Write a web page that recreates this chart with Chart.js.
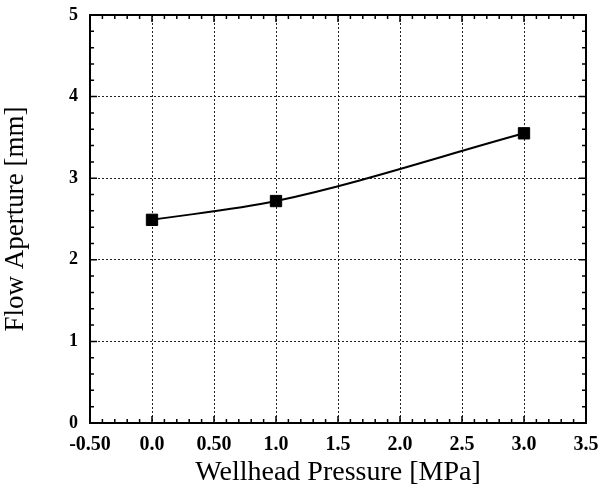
<!DOCTYPE html>
<html>
<head>
<meta charset="utf-8">
<script src="https://cdn.jsdelivr.net/npm/chart.js@4.4.1/dist/chart.umd.min.js"></script>
<style>
  html, body { margin: 0; padding: 0; background: #fff; }
  #wrap { width: 608px; height: 496px; }
</style>
</head>
<body>
<div id="wrap"><canvas id="apertureChart" width="608" height="496"></canvas></div>
<script>
// values
const pressure = [0.0, 1.0, 3.0];
const aperture = [2.49, 2.72, 3.55];
const xTickLabels = ['-0.50', '0.0', '0.50', '1.0', '1.5', '2.0', '2.5', '3.0', '3.5'];
const yTickLabels = ['0', '1', '2', '3', '4', '5'];

// frame plus inward major/minor ticks on all four sides
const frameTicks = {
    id: 'frameTicks',
    afterDraw(chart) {
        const ctx = chart.ctx;
        const xs = chart.scales.x, ys = chart.scales.y;
        const a = chart.chartArea;
        ctx.save();
        ctx.strokeStyle = '#000';
        ctx.lineWidth = 1.5;
        for (let i = 0; i <= 40; i++) {
            const v = -0.5 + i * 0.1;
            const px = xs.getPixelForValue(v);
            const len = i % 5 === 0 ? 7 : 4;
            ctx.beginPath();
            ctx.moveTo(px, a.bottom); ctx.lineTo(px, a.bottom - len);
            ctx.moveTo(px, a.top); ctx.lineTo(px, a.top + len);
            ctx.stroke();
        }
        for (let i = 0; i <= 25; i++) {
            const v = i * 0.2;
            const py = ys.getPixelForValue(v);
            const len = i % 5 === 0 ? 7 : 4;
            ctx.beginPath();
            ctx.moveTo(a.left, py); ctx.lineTo(a.left + len, py);
            ctx.moveTo(a.right, py); ctx.lineTo(a.right - len, py);
            ctx.stroke();
        }
        ctx.lineWidth = 2;
        ctx.strokeRect(a.left, a.top, a.right - a.left, a.bottom - a.top);
        ctx.restore();
    }
};

function initChart() {
    const ctx = document.getElementById('apertureChart');
    new Chart(ctx, {
        type: 'scatter',
        data: {
            datasets: [{
                label: 'Flow Aperture',
                data: pressure.map((p, i) => ({ x: p, y: aperture[i] })),
                showLine: true,
                cubicInterpolationMode: 'monotone',
                borderColor: '#000',
                borderWidth: 2,
                backgroundColor: '#000',
                pointStyle: 'rect',
                pointRadius: 8,
                pointBorderWidth: 1,
                pointBorderColor: '#000',
                pointBackgroundColor: '#000'
            }]
        },
        options: {
            responsive: false,
            animation: false,
            layout: { padding: { left: 0, right: 22, top: 15, bottom: 0 } },
            plugins: {
                legend: { display: false },
                tooltip: { enabled: false }
            },
            scales: {
                x: {
                    type: 'linear',
                    min: -0.5,
                    max: 3.5,
                    afterBuildTicks: (scale) => {
                        scale.ticks = xTickLabels.map((_, i) => ({ value: -0.5 + i * 0.5 }));
                    },
                    afterFit: (scale) => {
                        scale.height = 73;
                        scale.paddingLeft = 0;
                        scale.paddingRight = 0;
                    },
                    grid: { color: '#222', lineWidth: 1, drawTicks: false },
                    border: { display: false, dash: [2, 2] },
                    ticks: {
                        padding: 10,
                        color: '#000',
                        maxRotation: 0,
                        autoSkip: false,
                        font: { family: 'Liberation Serif', size: 20, weight: 'bold' },
                        callback: (v, i) => xTickLabels[i]
                    },
                    title: {
                        display: true,
                        text: 'Wellhead Pressure [MPa]',
                        color: '#000',
                        padding: { top: 2, bottom: 7 },
                        font: { family: 'Liberation Serif', size: 28 }
                    }
                },
                y: {
                    type: 'linear',
                    min: 0,
                    max: 5,
                    afterBuildTicks: (scale) => {
                        scale.ticks = yTickLabels.map((_, i) => ({ value: i }));
                    },
                    afterFit: (scale) => {
                        scale.width = 90;
                        scale.paddingTop = 0;
                        scale.paddingBottom = 0;
                    },
                    grid: { color: '#222', lineWidth: 1, drawTicks: false },
                    border: { display: false, dash: [2, 2] },
                    ticks: {
                        padding: 12,
                        color: '#000',
                        font: { family: 'Liberation Serif', size: 18, weight: 'bold' },
                        callback: (v, i) => yTickLabels[i]
                    },
                    title: {
                        display: true,
                        text: 'Flow Aperture [mm]',
                        color: '#000',
                        padding: { top: 0, bottom: 4 },
                        font: { family: 'Liberation Serif', size: 27 }
                    }
                }
            }
        },
        plugins: [frameTicks]
    });
}

if (document.readyState === 'loading') {
    document.addEventListener('DOMContentLoaded', initChart);
} else {
    initChart();
}
</script>
</body>
</html>
